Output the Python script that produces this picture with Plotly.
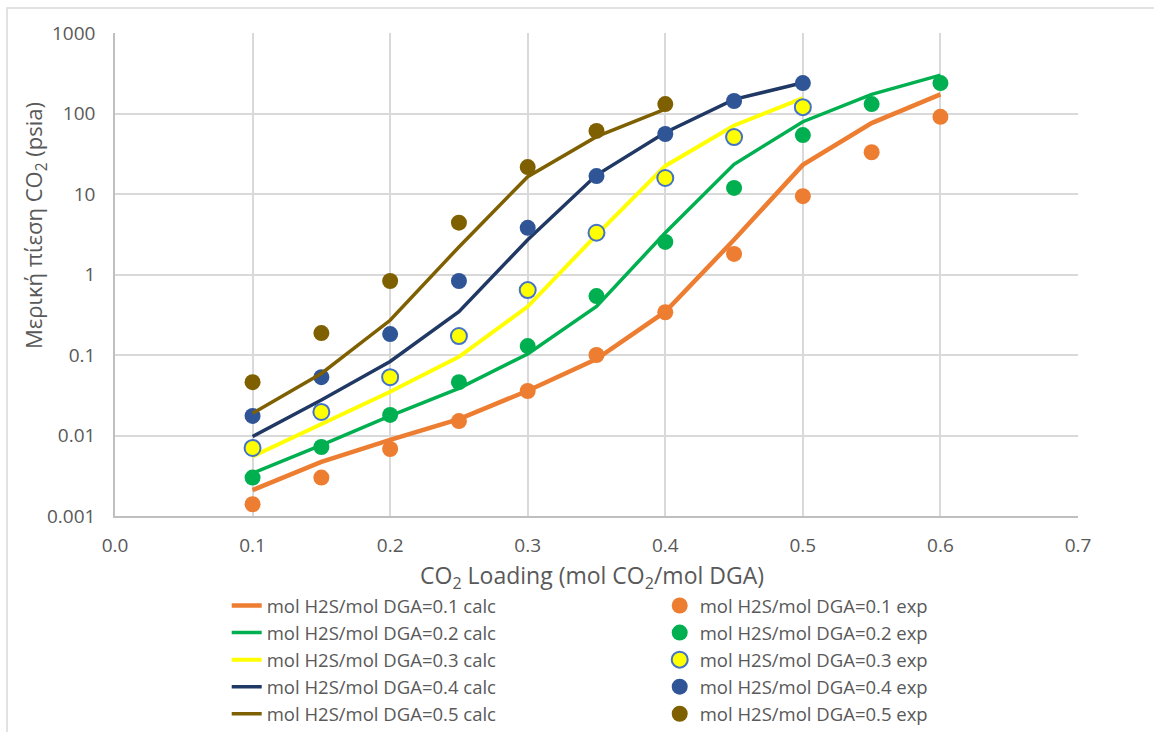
import plotly.graph_objects as go

# ---- data ----
x_all = [0.1, 0.15, 0.2, 0.25, 0.3, 0.35, 0.4, 0.45, 0.5, 0.55, 0.6]

calc_01 = [0.0021, 0.0047, 0.0088, 0.016, 0.036, 0.089, 0.345, 2.7, 23, 76, 173]
exp_01 = [0.0014, 0.0030, 0.0068, 0.0151, 0.0357, 0.10, 0.34, 1.8, 9.4, 33, 91]

calc_02 = [0.0034, 0.0076, 0.0175, 0.0385, 0.103, 0.40, 3.3, 23.4, 79, 173, 300]
exp_02 = [0.0030, 0.0072, 0.018, 0.046, 0.129, 0.54, 2.54, 11.9, 54, 131, 239]

calc_03 = [0.0055, 0.014, 0.035, 0.095, 0.40, 3.1, 22.3, 71, 155]
exp_03 = [0.0070, 0.0196, 0.053, 0.172, 0.64, 3.3, 15.8, 51, 120]

calc_04 = [0.0097, 0.0276, 0.083, 0.345, 2.7, 17.2, 58, 150, 241]
exp_04 = [0.0175, 0.053, 0.182, 0.83, 3.8, 16.7, 55.6, 143, 239]

calc_05 = [0.0189, 0.059, 0.27, 2.2, 16.4, 51.5, 113]
exp_05 = [0.046, 0.187, 0.83, 4.4, 21.6, 60.7, 131]

ratios = ["0.1", "0.2", "0.3", "0.4", "0.5"]
calc_sets = [calc_01, calc_02, calc_03, calc_04, calc_05]
exp_sets = [exp_01, exp_02, exp_03, exp_04, exp_05]

y_tickvals = [0.001, 0.01, 0.1, 1, 10, 100, 1000]
y_ticktext = ["0.001", "0.01", "0.1", "1", "10", "100", "1000"]
x_tickvals = [0.0, 0.1, 0.2, 0.3, 0.4, 0.5, 0.6, 0.7]
x_ticktext = ["0.0", "0.1", "0.2", "0.3", "0.4", "0.5", "0.6", "0.7"]

x_title = "CO<sub>2</sub> Loading (mol CO<sub>2</sub>/mol DGA)"
y_title = "Μερική πίεση CO<sub>2</sub> (psia)"

# ---- styles ----
line_colors = ["#ED7D31", "#00B050", "#FFFF00", "#203864", "#7F6000"]
line_widths = [4.5, 3.5, 4, 3.5, 3.5]
marker_fill = ["#ED7D31", "#00B050", "#FFFF00", "#2F5597", "#7F6000"]
marker_line = ["#ED7D31", "#00B050", "#4472C4", "#2F5597", "#7F6000"]
marker_lw = [0, 0, 2, 0, 0]

FONT = "Open Sans"
TXT = "#595959"
GRID = "#d9d9d9"

fig = go.Figure()
for i, r in enumerate(ratios):
    cy = calc_sets[i]
    ey = exp_sets[i]
    fig.add_trace(go.Scatter(
        x=x_all[:len(cy)], y=cy, mode="lines",
        name=f"mol H2S/mol DGA={r} calc",
        line=dict(color=line_colors[i], width=line_widths[i]),
    ))
    fig.add_trace(go.Scatter(
        x=x_all[:len(ey)], y=ey, mode="markers",
        name=f"mol H2S/mol DGA={r} exp",
        marker=dict(size=16, color=marker_fill[i],
                    line=dict(color=marker_line[i], width=marker_lw[i])),
    ))

fig.update_layout(
    width=1154, height=732,
    margin=dict(l=115, r=76, t=33, b=216, autoexpand=False),
    paper_bgcolor="white", plot_bgcolor="white",
    font=dict(family=FONT, color=TXT, size=19),
    showlegend=True,
    legend=dict(
        orientation="h", x=0.116, xanchor="left", y=-0.147, yanchor="top",
        entrywidth=388, entrywidthmode="pixels",
        font=dict(family=FONT, color=TXT, size=18.5),
        traceorder="normal", bgcolor="rgba(0,0,0,0)",
        tracegroupgap=0,
    ),
    xaxis=dict(
        range=[0, 0.7], tickvals=x_tickvals, ticktext=x_ticktext,
        showgrid=True, gridcolor=GRID, gridwidth=1.5,
        showline=True, linecolor="#bfbfbf", linewidth=1.5, mirror=False,
        zeroline=False, ticks="", ticklabelstandoff=11,
        tickfont=dict(size=19, color=TXT),
    ),
    yaxis=dict(
        type="log", range=[-3, 3], tickvals=y_tickvals, ticktext=y_ticktext,
        showgrid=True, gridcolor=GRID, gridwidth=1.5,
        showline=True, linecolor="#bfbfbf", linewidth=1.5,
        zeroline=False, ticks="", ticklabelstandoff=14,
        tickfont=dict(size=19, color=TXT),
    ),
    annotations=[
        dict(text=x_title, xref="paper", yref="paper",
             x=(592 - 115) / 963, y=-(576 - 516) / 483,
             xanchor="center", yanchor="middle", showarrow=False,
             font=dict(size=23, color=TXT, family=FONT)),
        dict(text=y_title, xref="paper", yref="paper",
             x=(35 - 115) / 963, y=(516 - 226) / 483, textangle=-90,
             xanchor="center", yanchor="middle", showarrow=False,
             font=dict(size=22, color=TXT, family=FONT)),
    ],
    shapes=[dict(type="rect", xref="paper", yref="paper",
                 x0=(7 - 115) / 963, x1=1.2, y0=-1.0, y1=(516 - 8) / 483,
                 line=dict(color=GRID, width=1.5), fillcolor="rgba(0,0,0,0)",
                 layer="below")],
)

fig.write_html("out.html")
